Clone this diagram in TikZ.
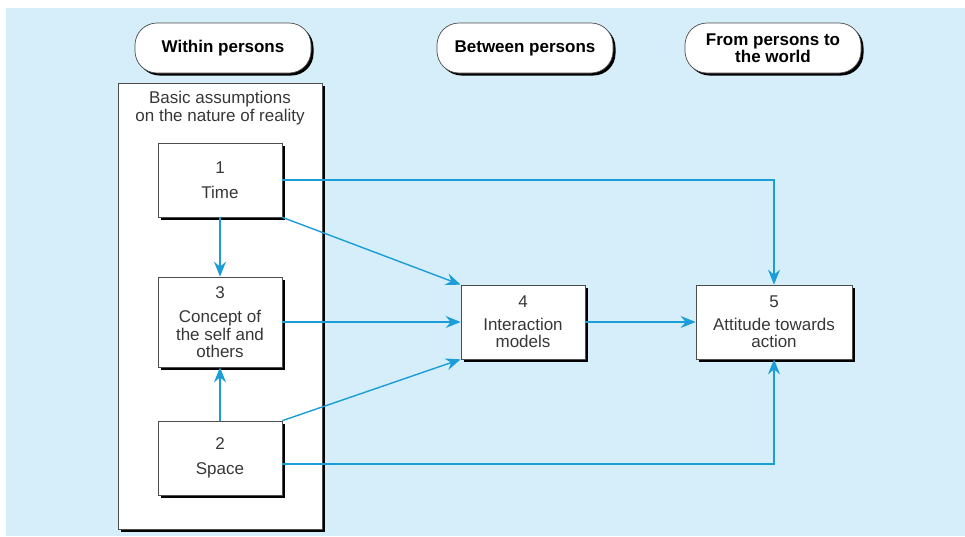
\documentclass[tikz,border=0pt]{standalone}
\usepackage{fontspec}
\setmainfont{Liberation Sans}
\usetikzlibrary{arrows.meta,shadows}
\definecolor{nenxanh}{RGB}{214,238,249}
\definecolor{muixanh}{RGB}{27,158,216}
\definecolor{chuxam}{RGB}{55,55,55}

\begin{document}
\begin{tikzpicture}[x=1pt,y=-1pt,
		hop/.style={draw=black!70,line width=0.7pt,fill=white,text=chuxam,align=center,inner sep=0pt,
			drop shadow={shadow xshift=2.5pt,shadow yshift=-2.5pt,fill=black,opacity=1},
			font=\fontsize{17}{17.5}\selectfont},
		nhan/.style={hop,rounded corners=22pt,text=black,minimum width=176pt,minimum height=50pt,
			font=\bfseries\fontsize{17}{17}\selectfont},
		muiten/.style={draw=muixanh,line width=1.4pt,-{Stealth[length=15pt,width=12pt,inset=5pt]}}]
			\useasboundingbox (0,0) rectangle (965,536);
			\fill[white] (0,0) rectangle (965,536);
			\fill[nenxanh] (6,8) rectangle (965,536);
			\node[nhan] (trong) at (223,48) {Within persons};
			\node[nhan] (giua) at (525,48) {Between persons};
			\node[nhan] (ngoai) at (773,48) {From persons to\\the world};
			\node[hop,minimum width=204pt,minimum height=446pt] (khung) at (220,306) {};
			\node[text=chuxam,align=center,font=\fontsize{17}{18}\selectfont] (giadinh) at (220,108) {Basic assumptions\\on the nature of reality};
			\node[hop,minimum width=124pt,minimum height=74pt] (tg) at (220,180) {1\\[7pt]Time};
			\node[hop,minimum width=124pt,minimum height=90pt] (kn) at (220,322) {3\\[7pt]Concept of\\the self and\\others};
			\node[hop,minimum width=124pt,minimum height=74pt] (kg) at (220,458) {2\\[7pt]Space};
			\node[hop,minimum width=124pt,minimum height=74pt] (tt) at (523,322) {4\\[5pt]Interaction\\models};
			\node[hop,minimum width=156pt,minimum height=74pt] (td) at (774,322) {5\\[5pt]Attitude towards\\action};
			\draw[muiten] (tg.east) -| (td.north);
			\draw[muiten] (tg.south east) -- (tt.north west);
			\draw[muiten] (tg.south) -- (kn.north);
			\draw[muiten] (kn.east) -- (tt.west);
			\draw[muiten] (kg.north) -- (kn.south);
			\draw[muiten] (kg.north east) -- (tt.south west);
			\draw[muiten] ([yshift=-6pt]kg.east) -| (td.south);
			\draw[muiten] (tt.east) -- (td.west);
		\end{tikzpicture}
\end{document}
